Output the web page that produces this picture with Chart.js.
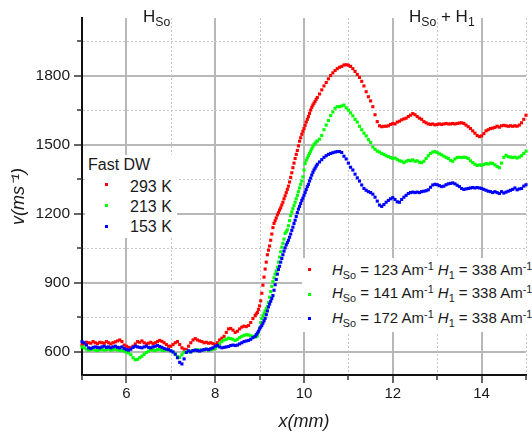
<!DOCTYPE html>
<html>
<head>
<meta charset="utf-8">
<script src="https://cdn.jsdelivr.net/npm/chart.js@4/dist/chart.umd.min.js"></script>
<style>
  html, body { margin: 0; padding: 0; background: #fff; }
  #wrap { position: relative; width: 532px; height: 435px; overflow: hidden; font-family: 'Liberation Sans', Arial, sans-serif; color: #1a1a1a; }
  #c { position: absolute; left: 0; top: 0; }
  .ov { position: absolute; white-space: nowrap; }
  .box { position: absolute; background: #fff; }
  .mk { position: absolute; width: 3px; height: 3px; }
  sub, sup { font-size: 0.72em; line-height: 0; position: relative; vertical-align: baseline; }
  sub { top: 0.3em; }
  sup { top: -0.45em; }
</style>
</head>
<body>
<div id="wrap">
  <canvas id="c" width="532" height="435"></canvas>

  <div class="ov" style="left:143px; top:8px; font-size:17px; line-height:17px;">H<sub>So</sub></div>
  <div class="ov" style="left:409px; top:8px; font-size:17px; line-height:17px;">H<sub>So</sub> + H<sub>1</sub></div>

  <div class="box" style="left:85px; top:155px; width:92px; height:83px;"></div>
  <div class="ov" style="left:88px; top:156.5px; font-size:16px; line-height:16px;">Fast DW</div>
  <div class="mk" style="left:104.5px; top:182.5px; background:#ff0000;"></div>
  <div class="ov" style="left:130px; top:178.5px; font-size:16px; line-height:16px;">293 K</div>
  <div class="mk" style="left:104.5px; top:204px; background:#00ff00;"></div>
  <div class="ov" style="left:130px; top:198.5px; font-size:16px; line-height:16px;">213 K</div>
  <div class="mk" style="left:104.5px; top:224.5px; background:#0000ff;"></div>
  <div class="ov" style="left:130px; top:218.5px; font-size:16px; line-height:16px;">153 K</div>

  <div class="box" style="left:302px; top:258px; width:230px; height:74px;"></div>
  <div class="mk" style="left:307.5px; top:267.5px; background:#ff0000;"></div>
  <div class="ov" style="left:332px; top:262.3px; font-size:15px; line-height:15px;"><i>H</i><sub>So</sub> = 123 Am<sup>-1</sup> <i>H</i><sub>1</sub> = 338 Am<sup>-1</sup></div>
  <div class="mk" style="left:307.5px; top:292.5px; background:#00ff00;"></div>
  <div class="ov" style="left:332px; top:285.3px; font-size:15px; line-height:15px;"><i>H</i><sub>So</sub> = 141 Am<sup>-1</sup> <i>H</i><sub>1</sub> = 338 Am<sup>-1</sup></div>
  <div class="mk" style="left:307.5px; top:316.5px; background:#0000ff;"></div>
  <div class="ov" style="left:332px; top:310.3px; font-size:15px; line-height:15px;"><i>H</i><sub>So</sub> = 172 Am<sup>-1</sup> <i>H</i><sub>1</sub> = 338 Am<sup>-1</sup></div>
</div>

<script>
// ---- sampling positions along x (mm): start, step, count per segment ----
const X_SEGMENTS = [
  { start: 5.0,   step: 0.05,  count: 78 },  // 5.00 .. 8.85
  { start: 8.9,   step: 0.025, count: 57 },  // 8.900 .. 10.300
  { start: 10.35, step: 0.05,  count: 94 }   // 10.35 .. 15.00
];

// ---- series values v (m/s) ----
const red293 = [
  630,635,642,640,638,645,640,636,642,640,638,645,640,635,640,644,648,652,645,630,
  625,620,618,625,635,645,642,648,640,635,638,642,636,640,645,650,646,640,632,625,
  625,632,640,645,632,618,612,610,625,640,652,658,652,648,645,640,642,638,640,636,
  632,640,652,660,668,685,700,702,695,685,690,700,708,712,710,715,728,745,
  758,765,772,785,
  800,822,855,890,925,960,990,1022,1042,1060,1085,1112,1140,1158,1170,1182,1195,1205,1216,1226,
  1238,1250,1265,1278,1292,1306,1320,1338,1358,1378,1400,1420,1440,1458,1475,1495,1515,1530,1545,1558,
  1570,1584,1598,1610,1622,1636,1650,1662,1672,1680,1688,1697,1705,
  1720,1738,1755,1770,1786,1800,1812,1822,1830,1836,1840,1846,1847,
  1845,1840,1830,1818,1805,1792,1775,1755,1730,1708,1690,1665,1630,1600,1582,1578,1580,1580,1582,1588,
  1592,1590,1598,1602,1608,1612,1615,1622,1628,1635,1630,1622,1615,1610,1600,1595,1590,1588,1590,1586,
  1588,1590,1588,1590,1592,1590,1590,1592,1590,1592,1594,1595,1592,1585,1578,1570,1560,1550,1540,1535,
  1538,1548,1560,1565,1570,1572,1575,1580,1576,1582,1584,1582,1580,1582,1580,1582,1580,1585,1595,1610,1628
];

const green213 = [
  622,618,612,608,610,612,608,606,610,612,608,610,612,608,610,612,609,608,606,604,
  600,596,588,575,566,568,575,582,590,598,604,610,608,606,610,612,608,606,610,608,
  606,600,592,580,576,588,598,602,600,604,606,608,610,608,606,610,612,608,610,612,
  615,625,635,645,652,655,660,658,655,650,655,662,668,672,675,674,670,668,
  665,668,670,685,
  705,728,745,758,768,778,788,798,815,838,862,885,905,922,938,952,968,990,1012,1035,
  1055,1072,1090,1115,1122,1130,1148,1170,1192,1208,1222,1236,1250,1265,1280,1296,1312,1328,1342,1360,
  1390,1418,1432,1442,1452,1462,1472,1482,1492,1500,1506,1512,1516,
  1524,1540,1565,1585,1605,1626,1642,1658,1665,1665,1668,1672,1660,
  1650,1638,1625,1610,1598,1580,1565,1550,1538,1522,1510,1490,1480,1472,1468,1462,1458,1452,1448,1444,
  1440,1442,1436,1430,1428,1422,1428,1432,1430,1434,1428,1430,1424,1422,1428,1440,1452,1462,1468,1470,
  1466,1460,1456,1450,1445,1440,1432,1428,1438,1444,1445,1444,1446,1444,1440,1430,1422,1415,1410,1412,
  1410,1414,1418,1416,1420,1418,1412,1405,1400,1420,1445,1454,1448,1446,1444,1446,1442,1446,1452,1462,1472
];

const blue153 = [
  645,640,630,618,615,620,622,620,618,622,625,620,622,618,622,625,620,618,622,615,
  610,608,612,620,625,622,620,618,622,625,620,618,622,625,628,624,620,615,612,610,
  605,600,590,575,555,548,570,598,605,600,606,608,606,604,608,610,612,610,614,618,
  625,628,622,618,620,622,624,628,630,628,630,635,640,645,648,650,655,662,
  668,675,682,690,
  700,708,715,725,735,746,762,778,795,808,820,832,845,868,892,915,938,958,972,990,
  1006,1022,1038,1052,1065,1075,1085,1098,1112,1128,1142,1158,1172,1188,1205,1220,1232,1245,1258,1268,
  1280,1292,1305,1318,1328,1342,1355,1368,1380,1390,1398,1407,1415,
  1425,1435,1445,1452,1458,1462,1465,1468,1470,1470,1466,1450,1438,
  1420,1402,1390,1372,1356,1342,1325,1310,1302,1296,1292,1285,1272,1255,1238,1232,1240,1250,1258,1265,
  1270,1262,1252,1250,1262,1272,1280,1288,1292,1294,1292,1294,1292,1296,1298,1300,1304,1315,1325,1328,
  1326,1322,1318,1320,1326,1330,1332,1334,1330,1324,1318,1310,1306,1308,1310,1312,1314,1312,1314,1312,
  1310,1306,1302,1298,1296,1292,1296,1292,1288,1296,1290,1294,1298,1302,1306,1312,1304,1308,1310,1320,1326
];

// ---- axis ticks ----
const X_MAJOR = [6, 8, 10, 12, 14];
const X_MINOR = [5, 7, 9, 11, 13, 15];
const Y_MAJOR = [600, 900, 1200, 1500, 1800];
const Y_MINOR = [750, 1050, 1350, 1650, 1950];

const xs = [];
X_SEGMENTS.forEach(s => {
  for (let k = 0; k < s.count; k++) xs.push(Math.round((s.start + k * s.step) * 1000) / 1000);
});
const pts = arr => arr.map((v, i) => ({ x: xs[i], y: v }));

const FONT = "'Liberation Sans', Arial, sans-serif";
const TXT = '#1a1a1a';

const minorGrid = {
  id: 'minorGrid',
  beforeDatasetsDraw(chart) {
    const { ctx, chartArea: a, scales: { x, y } } = chart;
    ctx.save();
    ctx.strokeStyle = '#c8c8c8';
    ctx.lineWidth = 1;
    ctx.setLineDash([2, 2]);
    X_MINOR.filter(v => v > 5).forEach(v => {
      const px = Math.round(x.getPixelForValue(v)) + 0.5;
      ctx.beginPath(); ctx.moveTo(px, a.top); ctx.lineTo(px, a.bottom - 1); ctx.stroke();
    });
    Y_MINOR.forEach(v => {
      const py = Math.round(y.getPixelForValue(v)) + 0.5;
      ctx.beginPath(); ctx.moveTo(a.left + 1, py); ctx.lineTo(a.right, py); ctx.stroke();
    });
    ctx.setLineDash([]);
    ctx.strokeStyle = '#333';
    ctx.lineWidth = 1.5;
    X_MINOR.forEach(v => {
      const px = Math.round(x.getPixelForValue(v));
      ctx.beginPath(); ctx.moveTo(px, a.bottom); ctx.lineTo(px, a.bottom + 5); ctx.stroke();
    });
    Y_MINOR.forEach(v => {
      const py = Math.round(y.getPixelForValue(v));
      ctx.beginPath(); ctx.moveTo(a.left - 5, py); ctx.lineTo(a.left, py); ctx.stroke();
    });
    ctx.restore();
  }
};

const ds = (label, data, color) => ({
  label, data: pts(data),
  backgroundColor: color, borderColor: color, borderWidth: 0,
  pointStyle: 'rect', pointRadius: 2.2, pointHoverRadius: 2.2,
  showLine: false, clip: 4
});

new Chart(document.getElementById('c'), {
  type: 'scatter',
  data: {
    datasets: [
      ds('153 K', blue153, '#0000ff'),
      ds('213 K', green213, '#00ff00'),
      ds('293 K', red293, '#ff0000')
    ]
  },
  options: {
    responsive: false,
    animation: false,
    devicePixelRatio: 1,
    layout: { padding: { top: 18, right: 6, left: 0, bottom: 0 } },
    plugins: { legend: { display: false }, tooltip: { enabled: false } },
    scales: {
      x: {
        type: 'linear', min: 5, max: 15,
        afterBuildTicks: s => { s.ticks = X_MAJOR.map(v => ({ value: v })); },
        afterFit: s => { s.height = 60; },
        grid: { color: '#b8b8b8', lineWidth: 2, tickLength: 8, tickColor: '#333', tickWidth: 1.5 },
        border: { color: '#111', width: 2 },
        ticks: { font: { family: FONT, size: 15 }, color: TXT, padding: 2, maxRotation: 0, autoSkip: false,
                 callback: v => String(v) },
        title: { display: true, text: 'x(mm)', color: TXT,
                 font: { family: FONT, size: 18, style: 'italic' }, padding: { top: 0, bottom: 2 } }
      },
      y: {
        type: 'linear', min: 500, max: 2050,
        afterBuildTicks: s => { s.ticks = Y_MAJOR.map(v => ({ value: v })); },
        afterFit: s => { s.width = 82; },
        grid: { color: '#b8b8b8', lineWidth: 2, tickLength: 8, tickColor: '#333', tickWidth: 1.5 },
        border: { color: '#111', width: 2 },
        ticks: { font: { family: FONT, size: 15.5 }, color: TXT, padding: 4, autoSkip: false,
                 callback: v => String(v) },
        title: { display: true, text: 'v(ms\u207B\u00B9)', color: TXT,
                 font: { family: FONT, size: 18, style: 'italic' }, padding: { top: 8, bottom: 0 } }
      }
    }
  },
  plugins: [minorGrid]
});
</script>
</body>
</html>
